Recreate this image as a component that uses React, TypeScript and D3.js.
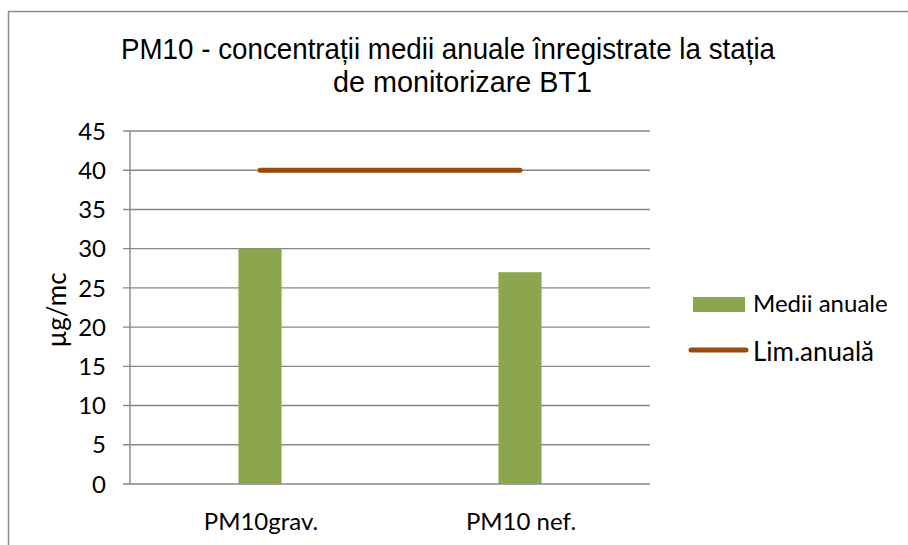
import React from "react";
import * as d3 from "d3";

const titleLines = ["PM10 - concentrații medii anuale înregistrate la stația", "de monitorizare BT1"];
const categories = ["PM10grav.", "PM10 nef."];
const mediiAnuale = [30, 27];
const limAnuala = [40, 40];
const yTicks = [0, 5, 10, 15, 20, 25, 30, 35, 40, 45];
const yAxisTitle = "µg/mc";
const legendLabels = ["Medii anuale", "Lim.anuală"];

const W = 908;
const H = 545;
const plot = { left: 130, right: 650, top: 131, bottom: 484 };
const barColor = "#8CA64F";
const lineColor = "#9C4A0B";
const gridColor = "#878787";
const labelFont = "Lato, 'Open Sans', sans-serif";

export default function App() {
  const y = d3.scaleLinear().domain([0, 45]).range([plot.bottom, plot.top]);
  const x = d3.scaleBand<string>().domain(categories).range([plot.left, plot.right]);
  const bw = x.bandwidth();
  const barW = bw * 0.166;
  const cx = (c: string) => (x(c) as number) + bw / 2;
  const linePath = d3
    .line<number>()
    .x((_, i) => cx(categories[i]))
    .y((d) => y(d))(limAnuala) as string;

  return (
    <svg
      width={W}
      height={H}
      style={{ position: "absolute", left: 0, top: 0, background: "#fff" }}
    >
      <rect x={0} y={0} width={W} height={H} fill="#fff" />
      <rect x={8.5} y={11.5} width={1000} height={1000} fill="none" stroke="#8a8a8a" strokeWidth={1.5} />
      {/* title */}
      <text
        x={121}
        y={59}
        fontFamily="'Liberation Sans', Arial, sans-serif"
        fontSize={30}
        textLength={654}
        lengthAdjust="spacingAndGlyphs"
        fill="#000"
      >
        {titleLines[0]}
      </text>
      <text
        x={333}
        y={92}
        fontFamily="'Liberation Sans', Arial, sans-serif"
        fontSize={30}
        textLength={259}
        lengthAdjust="spacingAndGlyphs"
        fill="#000"
      >
        {titleLines[1]}
      </text>
      {/* gridlines */}
      {yTicks.map((t) => (
        <g key={t}>
          <line x1={123} x2={plot.right} y1={y(t)} y2={y(t)} stroke={gridColor} strokeWidth={1.4} />
          <text
            x={106}
            y={y(t)}
            dy="0.36em"
            textAnchor="end"
            fontFamily={labelFont}
            fontSize={24}
            fill="#000"
          >
            {t}
          </text>
        </g>
      ))}
      {/* axis */}
      <line x1={plot.left} x2={plot.left} y1={plot.top} y2={plot.bottom} stroke={gridColor} strokeWidth={1.4} />
      {/* y axis title */}
      <text
        transform={`translate(66,${310}) rotate(-90)`}
        textAnchor="middle"
        fontFamily={labelFont}
        fontSize={26}
        fill="#000"
      >
        {yAxisTitle}
      </text>
      {/* bars */}
      {categories.map((c, i) => (
        <rect
          key={c}
          x={cx(c) - barW / 2}
          y={y(mediiAnuale[i])}
          width={barW}
          height={y(0) - y(mediiAnuale[i])}
          fill={barColor}
        />
      ))}
      {/* limit line */}
      <path d={linePath} fill="none" stroke={lineColor} strokeWidth={5} strokeLinecap="round" />
      {/* category labels */}
      {categories.map((c) => (
        <text
          key={c}
          x={cx(c) + 1}
          y={530}
          textAnchor="middle"
          fontFamily={labelFont}
          fontSize={24}
          fill="#000"
        >
          {c}
        </text>
      ))}
      {/* legend */}
      <rect x={693} y={297} width={52} height={15} fill={barColor} />
      <text x={753} y={312} fontFamily={labelFont} fontSize={24} fill="#000">
        {legendLabels[0]}
      </text>
      <line x1={691} x2={746} y1={350} y2={350} stroke={lineColor} strokeWidth={5} strokeLinecap="round" />
      <text x={753} y={361} fontFamily={labelFont} fontSize={26} fill="#000">
        {legendLabels[1]}
      </text>
    </svg>
  );
}
